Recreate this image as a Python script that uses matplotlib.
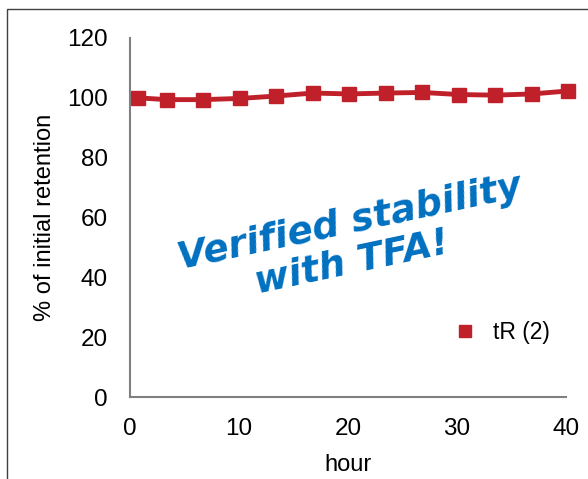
import matplotlib.pyplot as plt
from matplotlib.patches import Rectangle

hours = [0.7, 3.4, 6.7, 10.1, 13.4, 16.8, 20.1, 23.5, 26.8, 30.2, 33.5, 36.9, 40.2]
retention = [100.0, 99.4, 99.4, 99.8, 100.6, 101.6, 101.3, 101.6, 101.8, 101.1, 100.9, 101.3, 102.3]
series_label = 'tR (2)'

plt.rcParams['font.family'] = ['Liberation Sans', 'DejaVu Sans']

fig = plt.figure(figsize=(5.88, 4.79), dpi=100)
ax = fig.add_axes([130 / 588, 82 / 479, 436 / 588, 359 / 479])

# outer frame, only top and left edges visible in the crop
fig.patches.append(Rectangle((7 / 588, -0.1), 1.2, (479 - 9) / 479 + 0.1,
                             transform=fig.transFigure, fill=False,
                             edgecolor='#404040', linewidth=1.0))

ax.plot(hours, retention, color='#C0202A', linewidth=3.5, marker='s',
        markersize=10, label=series_label, clip_on=False)

ax.set_xlim(0, 40)
ax.set_ylim(0, 120)
ax.set_xticks(range(0, 41, 10))
ax.set_yticks(range(0, 121, 20))
ax.tick_params(axis='x', length=0, labelsize=17.5, pad=15)
ax.tick_params(axis='y', length=0, labelsize=17.5, pad=16)
for s in ['top', 'right']:
    ax.spines[s].set_visible(False)
for s in ['left', 'bottom']:
    ax.spines[s].set_color('#808080')
    ax.spines[s].set_linewidth(1.5)

ax.set_xlabel('hour', fontsize=17, labelpad=10)
ax.set_ylabel('% of initial retention', fontsize=17, labelpad=8)

leg = ax.legend(loc='lower right', bbox_to_anchor=(1.01, 0.09), frameon=False,
                fontsize=16.5, handlelength=1.0, handletextpad=0.7,
                markerscale=0.9)
for h in leg.legend_handles:
    h.set_linestyle('none')

ax.text(0.515, 0.43, 'Verified stability\n  with TFA!   ', transform=ax.transAxes,
        fontsize=27, color='#0070C0', fontweight='bold', style='italic',
        rotation=12, ha='center', va='center', linespacing=1.15,
        family='DejaVu Sans')

fig.savefig('out.png', dpi=100)
